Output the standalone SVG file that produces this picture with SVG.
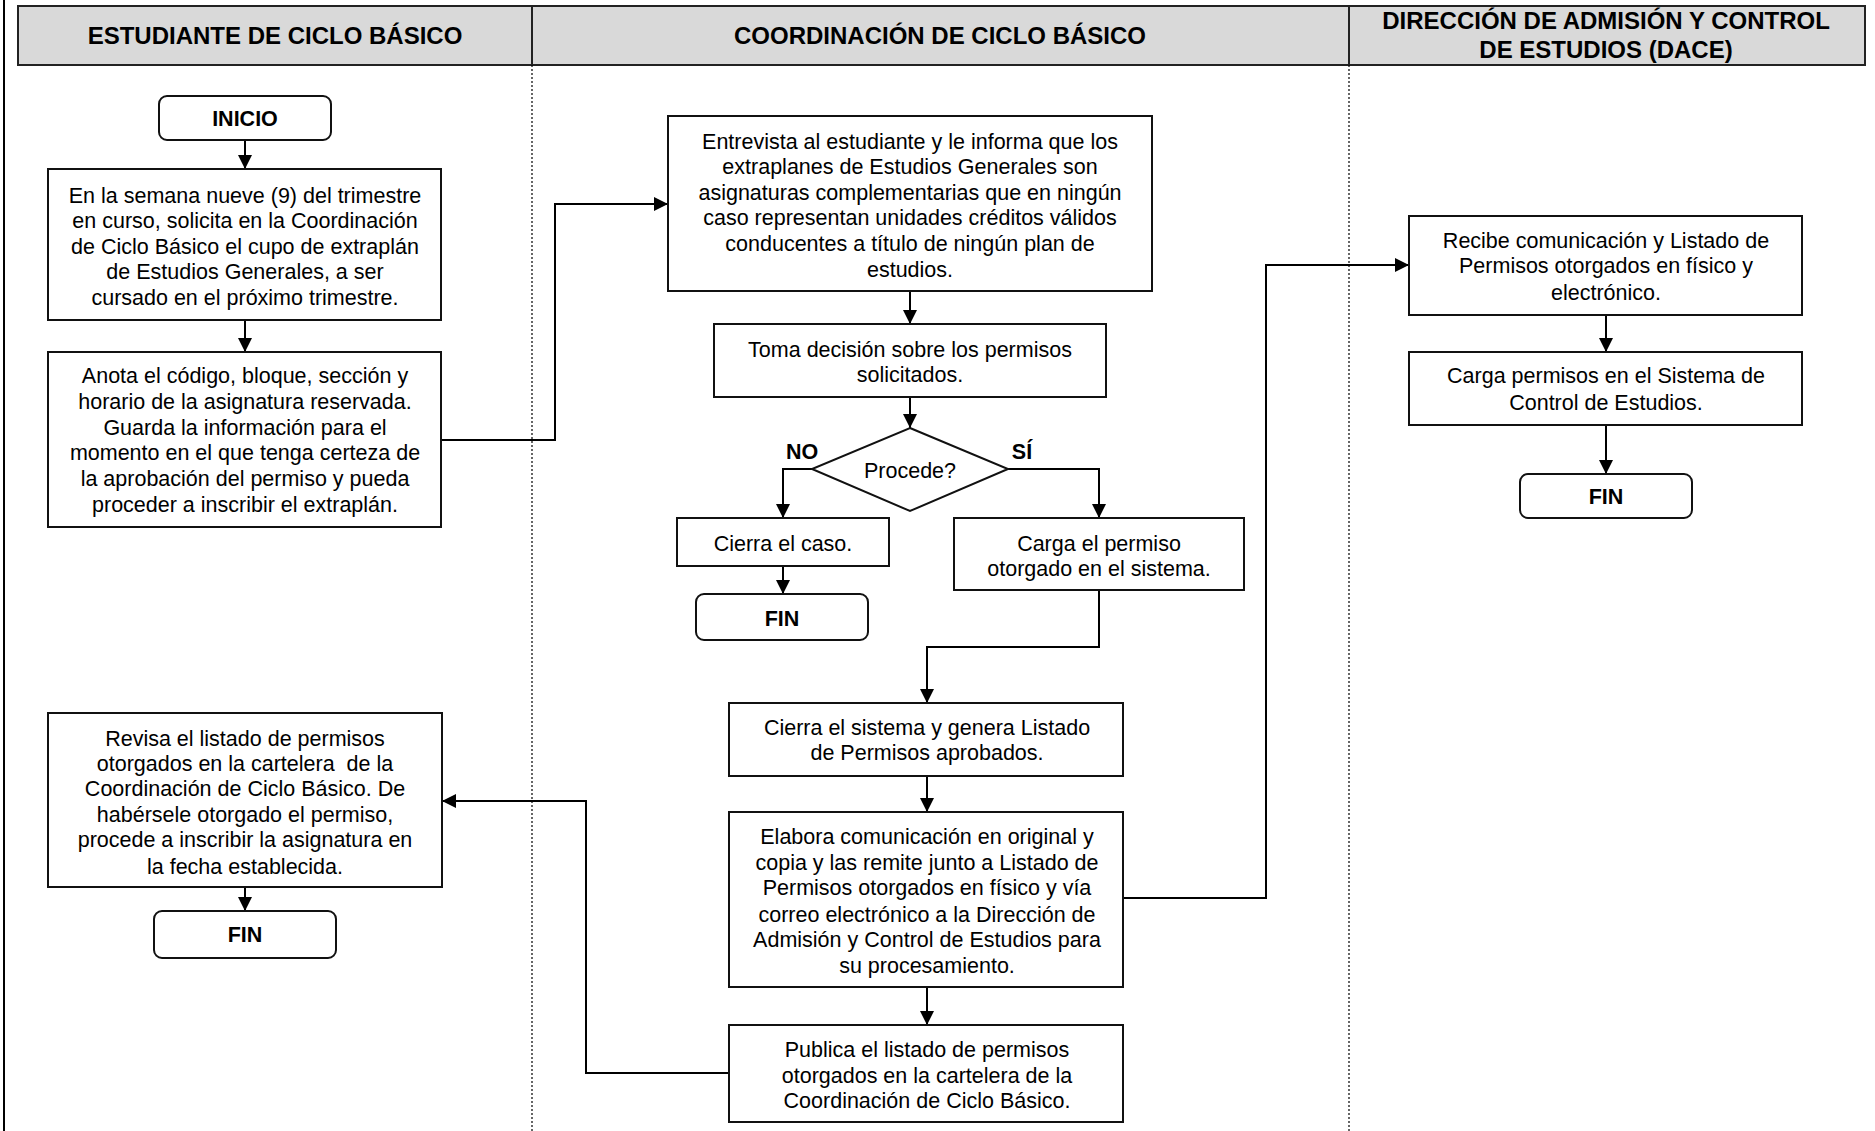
<svg xmlns="http://www.w3.org/2000/svg" width="1875" height="1131" viewBox="0 0 1875 1131">
<defs>
<marker id="ah" markerUnits="userSpaceOnUse" markerWidth="14" markerHeight="14" viewBox="0 0 14 14" refX="14" refY="7" orient="auto">
<path d="M0,0 L14,7 L0,14 Z" fill="#000"/>
</marker>
<style>
.hdr{fill:#d9d9d9;stroke:#222;stroke-width:2}
.ht{font-family:"Liberation Sans",Arial,sans-serif;font-weight:bold;font-size:24px;text-anchor:middle;fill:#000}
.box{fill:#fff;stroke:#111;stroke-width:2}
.t{font-family:"Liberation Sans",Arial,sans-serif;font-size:21.5px;text-anchor:middle;fill:#000}
.b{font-family:"Liberation Sans",Arial,sans-serif;font-size:21.5px;font-weight:bold;text-anchor:middle;fill:#000}
.c{fill:none;stroke:#000;stroke-width:2}
.dot{stroke:#000;stroke-width:1.2;stroke-dasharray:2,2}
</style>
</defs>
<rect width="1875" height="1131" fill="#fff"/>
<line x1="4" y1="0" x2="4" y2="1131" stroke="#000" stroke-width="2"/>
<g id="lanes">
<rect class="hdr" x="18" y="6" width="514" height="59"/>
<rect class="hdr" x="532" y="6" width="817" height="59"/>
<rect class="hdr" x="1349" y="6" width="516" height="59"/>
<text class="ht" x="275" y="44">ESTUDIANTE DE CICLO BÁSICO</text>
<text class="ht" x="940" y="44">COORDINACIÓN DE CICLO BÁSICO</text>
<text class="ht" x="1606" y="29">DIRECCIÓN DE ADMISIÓN Y CONTROL</text>
<text class="ht" x="1606" y="58">DE ESTUDIOS (DACE)</text>
<line class="dot" x1="532" y1="65" x2="532" y2="1131"/>
<line class="dot" x1="1349" y1="65" x2="1349" y2="1131"/>
</g>
<g id="connectors">
<path class="c" d="M245,140 V169" marker-end="url(#ah)"/>
<path class="c" d="M245,320 V352" marker-end="url(#ah)"/>
<path class="c" d="M441,440 H555 V204 H668" marker-end="url(#ah)"/>
<path class="c" d="M910,291 V324" marker-end="url(#ah)"/>
<path class="c" d="M910,397 V428" marker-end="url(#ah)"/>
<path class="c" d="M812,469 H783 V518" marker-end="url(#ah)"/>
<path class="c" d="M1008,469 H1099 V518" marker-end="url(#ah)"/>
<path class="c" d="M783,566 V594" marker-end="url(#ah)"/>
<path class="c" d="M1099,590 V647 H927 V703" marker-end="url(#ah)"/>
<path class="c" d="M927,776 V812" marker-end="url(#ah)"/>
<path class="c" d="M927,987 V1025" marker-end="url(#ah)"/>
<path class="c" d="M729,1073 H586 V801 H442" marker-end="url(#ah)"/>
<path class="c" d="M245,887 V911" marker-end="url(#ah)"/>
<path class="c" d="M1123,898 H1266 V265 H1409" marker-end="url(#ah)"/>
<path class="c" d="M1606,315 V352" marker-end="url(#ah)"/>
<path class="c" d="M1606,425 V474" marker-end="url(#ah)"/>
</g>
<g id="inicio">
<rect class="box" x="159" y="96" width="172" height="44" rx="8"/>
<text class="b" x="245" y="126">INICIO</text>
</g>
<g id="solicita">
<rect class="box" x="48" y="169" width="393" height="151"/>
<text class="t" x="245" y="203">En la semana nueve (9) del trimestre</text>
<text class="t" x="245" y="228">en curso, solicita en la Coordinación</text>
<text class="t" x="245" y="254">de Ciclo Básico el cupo de extraplán</text>
<text class="t" x="245" y="279">de Estudios Generales, a ser</text>
<text class="t" x="245" y="305">cursado en el próximo trimestre.</text>
</g>
<g id="anota">
<rect class="box" x="48" y="352" width="393" height="175"/>
<text class="t" x="245" y="383">Anota el código, bloque, sección y</text>
<text class="t" x="245" y="409">horario de la asignatura reservada.</text>
<text class="t" x="245" y="435">Guarda la información para el</text>
<text class="t" x="245" y="460">momento en el que tenga certeza de</text>
<text class="t" x="245" y="486">la aprobación del permiso y pueda</text>
<text class="t" x="245" y="512">proceder a inscribir el extraplán.</text>
</g>
<g id="entrevista">
<rect class="box" x="668" y="116" width="484" height="175"/>
<text class="t" x="910" y="149">Entrevista al estudiante y le informa que los</text>
<text class="t" x="910" y="174">extraplanes de Estudios Generales son</text>
<text class="t" x="910" y="200">asignaturas complementarias que en ningún</text>
<text class="t" x="910" y="225">caso representan unidades créditos válidos</text>
<text class="t" x="910" y="251">conducentes a título de ningún plan de</text>
<text class="t" x="910" y="277">estudios.</text>
</g>
<g id="toma">
<rect class="box" x="714" y="324" width="392" height="73"/>
<text class="t" x="910" y="357">Toma decisión sobre los permisos</text>
<text class="t" x="910" y="382">solicitados.</text>
</g>
<g id="procede">
<polygon class="box" points="910,428 1008,469 910,511 812,469"/>
<text class="t" x="910" y="478">Procede?</text>
<text class="b" x="802" y="459">NO</text>
<text class="b" x="1022" y="459">SÍ</text>
</g>
<g id="cierra-caso">
<rect class="box" x="677" y="518" width="212" height="48"/>
<text class="t" x="783" y="551">Cierra el caso.</text>
</g>
<g id="fin1">
<rect class="box" x="696" y="594" width="172" height="46" rx="8"/>
<text class="b" x="782" y="626">FIN</text>
</g>
<g id="carga-permiso">
<rect class="box" x="954" y="518" width="290" height="72"/>
<text class="t" x="1099" y="551">Carga el permiso</text>
<text class="t" x="1099" y="576">otorgado en el sistema.</text>
</g>
<g id="cierra-sistema">
<rect class="box" x="729" y="703" width="394" height="73"/>
<text class="t" x="927" y="735">Cierra el sistema y genera Listado</text>
<text class="t" x="927" y="760">de Permisos aprobados.</text>
</g>
<g id="elabora">
<rect class="box" x="729" y="812" width="394" height="175"/>
<text class="t" x="927" y="844">Elabora comunicación en original y</text>
<text class="t" x="927" y="870">copia y las remite junto a Listado de</text>
<text class="t" x="927" y="895">Permisos otorgados en físico y vía</text>
<text class="t" x="927" y="922">correo electrónico a la Dirección de</text>
<text class="t" x="927" y="947">Admisión y Control de Estudios para</text>
<text class="t" x="927" y="973">su procesamiento.</text>
</g>
<g id="publica">
<rect class="box" x="729" y="1025" width="394" height="97"/>
<text class="t" x="927" y="1057">Publica el listado de permisos</text>
<text class="t" x="927" y="1083">otorgados en la cartelera de la</text>
<text class="t" x="927" y="1108">Coordinación de Ciclo Básico.</text>
</g>
<g id="revisa">
<rect class="box" x="48" y="713" width="394" height="174"/>
<text class="t" x="245" y="746">Revisa el listado de permisos</text>
<text class="t" x="245" y="771" xml:space="preserve">otorgados en la cartelera  de la</text>
<text class="t" x="245" y="796">Coordinación de Ciclo Básico. De</text>
<text class="t" x="245" y="822">habérsele otorgado el permiso,</text>
<text class="t" x="245" y="847">procede a inscribir la asignatura en</text>
<text class="t" x="245" y="874">la fecha establecida.</text>
</g>
<g id="fin2">
<rect class="box" x="154" y="911" width="182" height="47" rx="8"/>
<text class="b" x="245" y="942">FIN</text>
</g>
<g id="recibe">
<rect class="box" x="1409" y="216" width="393" height="99"/>
<text class="t" x="1606" y="248">Recibe comunicación y Listado de</text>
<text class="t" x="1606" y="273">Permisos otorgados en físico y</text>
<text class="t" x="1606" y="300">electrónico.</text>
</g>
<g id="carga-sistema">
<rect class="box" x="1409" y="352" width="393" height="73"/>
<text class="t" x="1606" y="383">Carga permisos en el Sistema de</text>
<text class="t" x="1606" y="410">Control de Estudios.</text>
</g>
<g id="fin3">
<rect class="box" x="1520" y="474" width="172" height="44" rx="8"/>
<text class="b" x="1606" y="504">FIN</text>
</g>
</svg>
